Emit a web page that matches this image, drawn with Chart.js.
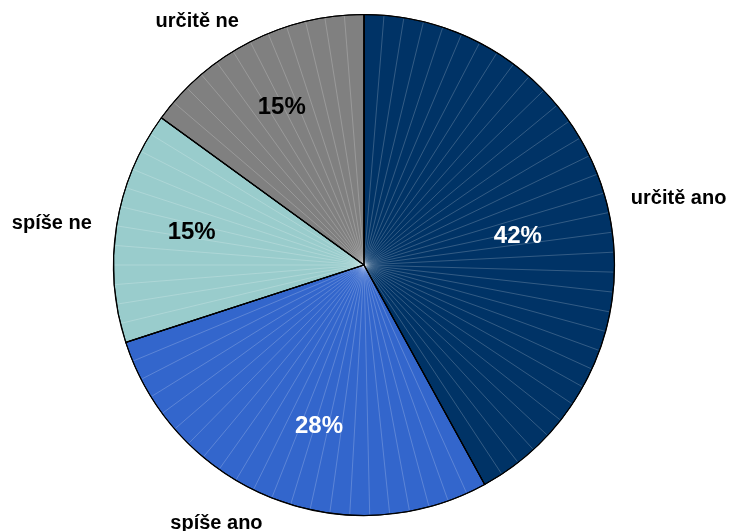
<!DOCTYPE html>
<html>
<head>
<meta charset="utf-8">
<script src="https://cdn.jsdelivr.net/npm/chart.js@4"></script>
<style>
  html, body { margin: 0; padding: 0; background: #fff; }
  #wrap { width: 730px; height: 531px; }
</style>
</head>
<body>
<div id="wrap"><canvas id="c"></canvas></div>
<script>
// data
const labels = ["určitě ano", "spíše ano", "spíše ne", "určitě ne"];
const values = [42, 28, 15, 15];
const colors = ["#003366", "#3366CC", "#99CCCC", "#808080"];
const pctColors = ["#fff", "#fff", "#000", "#000"];
// where the % sits inside each slice: [fraction of slice angle, fraction of radius]
const pctPlace = [[0.525, 0.625], [0.44, 0.67], [0.53, 0.70], [0.49, 0.71]];

const FONT = "Arial, 'Liberation Sans', sans-serif";

// faint radial strokes + labels, like the old excel pie
const pieDeco = {
  id: "pieDeco",
  afterDatasetsDraw(chart) {
    const ctx = chart.ctx;
    const arcs = chart.getDatasetMeta(0).data;
    const props = (arc) => arc.getProps(["x", "y", "startAngle", "endAngle", "outerRadius"], true);
    ctx.save();
    arcs.forEach((arc) => {
      const { x, y, startAngle, endAngle, outerRadius: R } = props(arc);
      const span = endAngle - startAngle;
      const n = Math.round(span / (4.6 * Math.PI / 180));
      ctx.strokeStyle = "rgba(255,255,255,0.25)";
      ctx.lineWidth = 0.8;
      for (let k = 1; k < n; k++) {
        const a = startAngle + (k * span) / n;
        ctx.beginPath();
        ctx.moveTo(x, y);
        ctx.lineTo(x + Math.cos(a) * (R - 1), y + Math.sin(a) * (R - 1));
        ctx.stroke();
      }
    });
    // border again on top
    arcs.forEach((arc) => {
      const { x, y, startAngle, endAngle, outerRadius: R } = props(arc);
      ctx.strokeStyle = "#000";
      ctx.lineWidth = 1.2;
      ctx.beginPath();
      ctx.moveTo(x, y);
      ctx.arc(x, y, R, startAngle, endAngle);
      ctx.closePath();
      ctx.stroke();
    });
    arcs.forEach((arc, i) => {
      const { x, y, startAngle, endAngle, outerRadius: R } = props(arc);
      const mid = (startAngle + endAngle) / 2;
      // percentage inside
      const pa = startAngle + (endAngle - startAngle) * pctPlace[i][0];
      const rp = R * pctPlace[i][1];
      ctx.font = "bold 24px " + FONT;
      ctx.fillStyle = pctColors[i];
      ctx.textAlign = "center";
      ctx.textBaseline = "middle";
      ctx.fillText(values[i] + "%", x + Math.cos(pa) * rp, y + Math.sin(pa) * rp);
      // category outside
      const ro = R + 25;
      const lx = x + Math.cos(mid) * ro;
      const ly = y + Math.sin(mid) * ro;
      ctx.font = "bold 20px " + FONT;
      ctx.fillStyle = "#000";
      ctx.textAlign = lx < x ? "right" : "left";
      ctx.fillText(labels[i], lx, ly + 2);
    });
    ctx.restore();
  },
};

new Chart(document.getElementById("c"), {
  type: "pie",
  data: {
    labels: labels,
    datasets: [{
      data: values,
      backgroundColor: colors,
      borderColor: "#000",
      borderWidth: 1,
    }],
  },
  options: {
    responsive: true,
    maintainAspectRatio: false,
    animation: false,
    layout: { padding: { top: 14, bottom: 15, left: 0, right: 2 } },
    plugins: {
      legend: { display: false },
      tooltip: { enabled: false },
    },
  },
  plugins: [pieDeco],
});
</script>
</body>
</html>
